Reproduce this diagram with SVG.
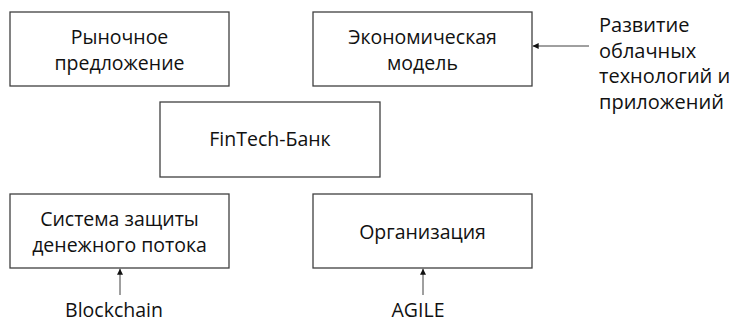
<svg xmlns="http://www.w3.org/2000/svg" width="737" height="324" viewBox="0 0 737 324">
<style>
.box{fill:#fff;stroke:#404040;stroke-width:1.3}
.t{font-family:"Open Sans","Noto Sans","DejaVu Sans",sans-serif;font-size:19.5px;fill:#111;text-anchor:middle}
.l{font-family:"Open Sans","Noto Sans","DejaVu Sans",sans-serif;font-size:20px;fill:#111}
.c{stroke:#404040;stroke-width:1;fill:none;marker-end:url(#ah)}
</style>
<defs>
<marker id="ah" viewBox="0 0 10 10" refX="10" refY="5" markerWidth="6" markerHeight="6" markerUnits="userSpaceOnUse" orient="auto">
<path d="M0,0 L10,5 L0,10 z" fill="#111"/>
</marker>
</defs>
<rect width="737" height="324" fill="#fff"/>
<g id="market">
<rect class="box" x="10" y="12" width="219" height="74"/>
<text class="t" x="119.5" y="44">Рыночное</text>
<text class="t" x="119.5" y="70">предложение</text>
</g>
<g id="econ">
<rect class="box" x="313" y="12" width="219" height="74"/>
<text class="t" x="422.5" y="44">Экономическая</text>
<text class="t" x="422.5" y="70">модель</text>
</g>
<g id="fintech">
<rect class="box" x="160" y="102" width="220" height="75"/>
<text class="t" x="270" y="146">FinTech-Банк</text>
</g>
<g id="security">
<rect class="box" x="10" y="194" width="219" height="74"/>
<text class="t" x="119.5" y="226">Система защиты</text>
<text class="t" x="119.5" y="252">денежного потока</text>
</g>
<g id="org">
<rect class="box" x="313" y="194" width="219" height="74"/>
<text class="t" x="422.5" y="239">Организация</text>
</g>
<g id="cloud">
<text class="l" x="599" y="32">Развитие</text>
<text class="l" x="599" y="57.5">облачных</text>
<text class="l" x="599" y="83">технологий и</text>
<text class="l" x="599" y="108.5">приложений</text>
</g>
<g id="blockchain">
<text class="t" x="114" y="317">Blockchain</text>
</g>
<g id="agile">
<text class="t" x="418" y="317">AGILE</text>
</g>
<g id="connectors">
<line class="c" x1="589" y1="46" x2="532.7" y2="46"/>
<line class="c" x1="120" y1="295" x2="120" y2="268.7"/>
<line class="c" x1="423" y1="295" x2="423" y2="268.7"/>
</g>
</svg>
